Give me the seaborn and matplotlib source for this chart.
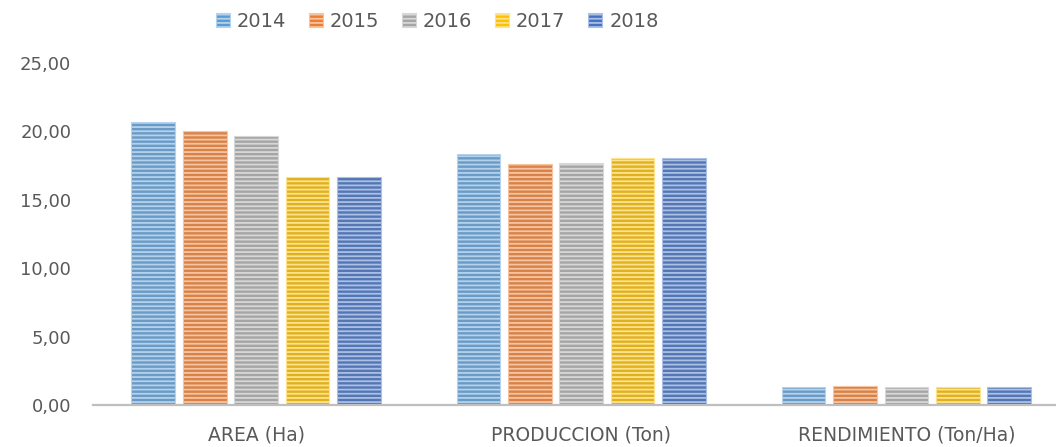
import pandas as pd
import seaborn as sns
import matplotlib.pyplot as plt
from matplotlib.patches import Patch
from matplotlib.colors import to_rgb

categories = ["AREA (Ha)", "PRODUCCION (Ton)", "RENDIMIENTO (Ton/Ha)"]
years = ["2014", "2015", "2016", "2017", "2018"]
v2014 = [20.69, 18.35, 1.32]
v2015 = [20.03, 17.62, 1.37]
v2016 = [19.66, 17.69, 1.35]
v2017 = [16.67, 18.06, 1.32]
v2018 = [16.67, 18.06, 1.32]
colors = ["#5B9BD5", "#ED7D31", "#A5A5A5", "#FFC000", "#4472C4"]

rows = []
for year, vals in zip(years, [v2014, v2015, v2016, v2017, v2018]):
    for cat, v in zip(categories, vals):
        rows.append({"cat": cat, "year": year, "value": v})
df = pd.DataFrame(rows)

sns.set_style("white")
plt.rcParams["font.family"] = ["DejaVu Sans"]
plt.rcParams["hatch.linewidth"] = 1.3


def lighter(c, f=0.55):
    r, g, b = to_rgb(c)
    return (r + (1 - r) * f, g + (1 - g) * f, b + (1 - b) * f)


fig = plt.figure(figsize=(10.56, 4.47), dpi=100)
ax = fig.add_axes([0.0885, 0.094, 0.9115, 0.765])

sns.barplot(data=df, x="cat", y="value", hue="year", hue_order=years,
            palette=colors, width=0.79, gap=0.15, legend=False, ax=ax)

# excel style striped fill
for i, bar in enumerate(ax.patches):
    col = colors[i // len(categories)]
    bar.set_hatch("----")
    bar.set_edgecolor(lighter(col))
    bar.set_linewidth(0.8)

ax.set_ylim(0, 25)
ax.set_xlim(-0.5, 2.46)
ax.set_yticks([0, 5, 10, 15, 20, 25])
ax.set_yticklabels([f"{t},00" for t in [0, 5, 10, 15, 20, 25]])
ax.set_xlabel("")
ax.set_ylabel("")
ax.tick_params(axis="y", length=0, pad=16, labelsize=13, labelcolor="#595959")
ax.tick_params(axis="x", length=0, pad=15, labelsize=13.5, labelcolor="#595959")
sns.despine(ax=ax, left=True)
ax.spines["bottom"].set_color("#BFBFBF")
ax.spines["bottom"].set_linewidth(1.6)

handles = [Patch(facecolor=c, edgecolor=lighter(c), hatch="----", linewidth=0.8) for c in colors]
fig.legend(handles, years, loc="center", bbox_to_anchor=(0.414, 0.953), ncol=5,
           frameon=False, fontsize=14, labelcolor="#595959",
           handlelength=0.72, handleheight=0.72, handletextpad=0.35, columnspacing=1.18)

fig.savefig("out.png", dpi=100)
